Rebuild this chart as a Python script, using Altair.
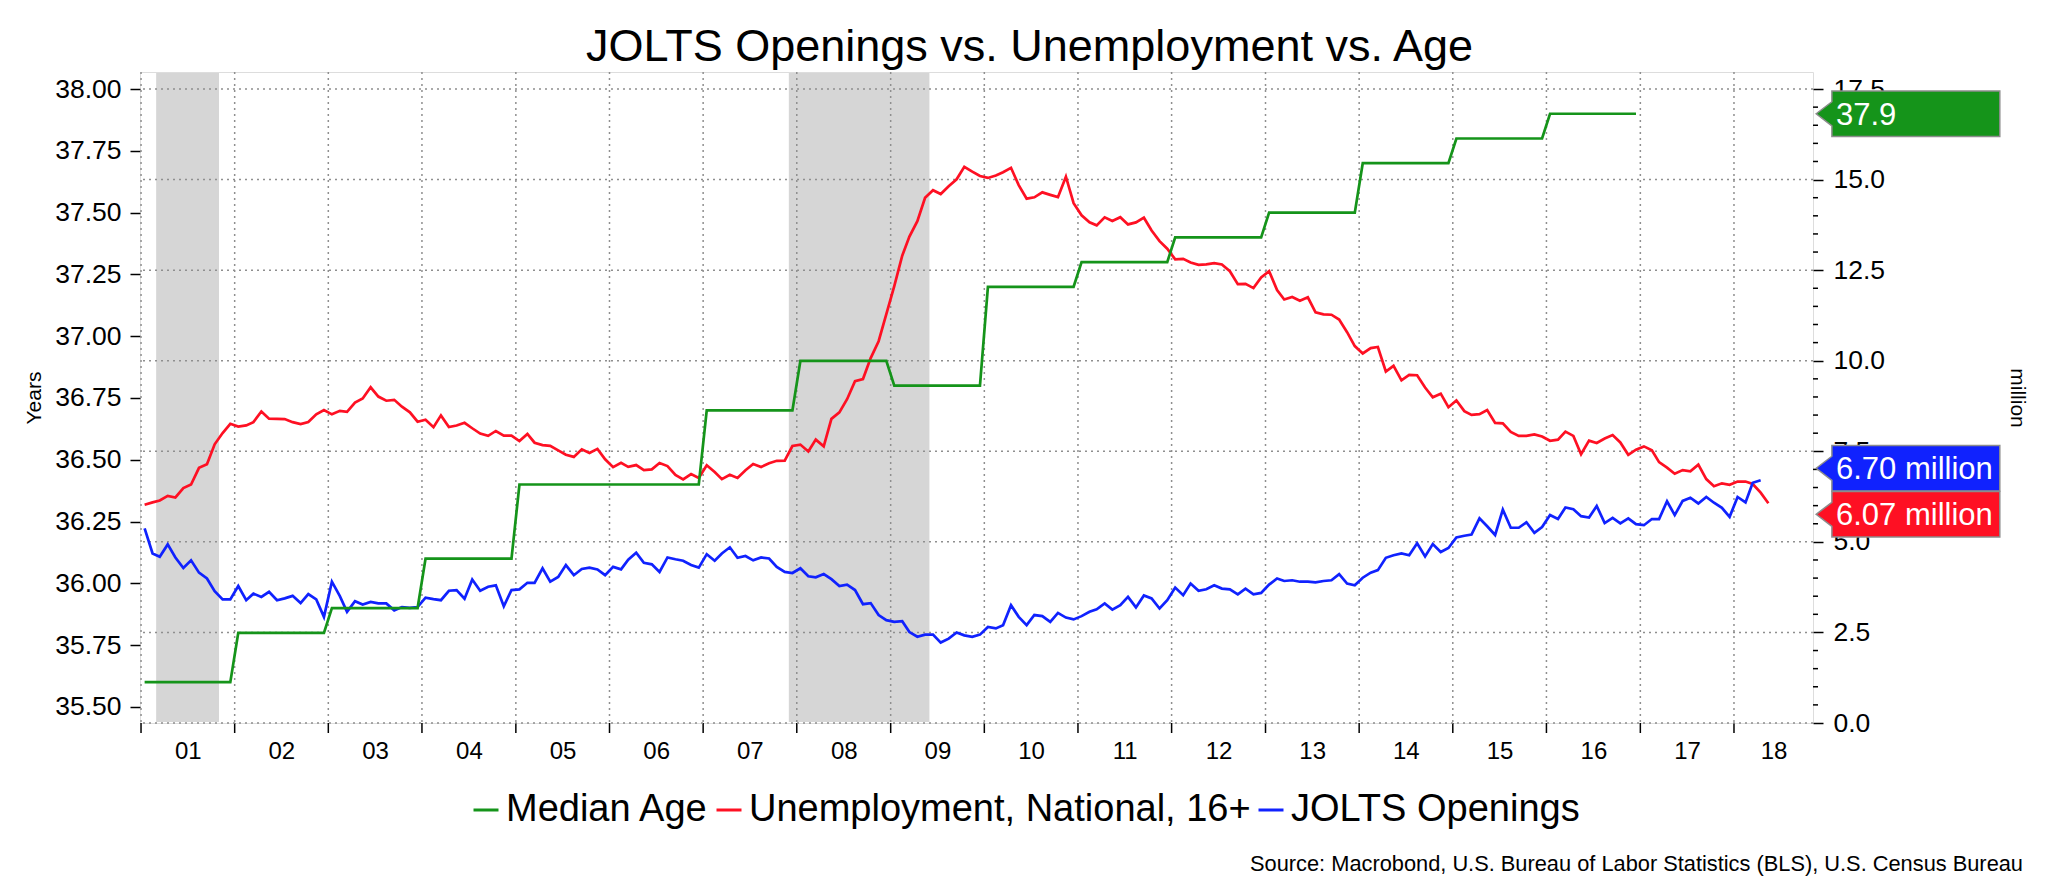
import altair as alt
import pandas as pd

FONT = "Liberation Sans"

title_text = "JOLTS Openings vs. Unemployment vs. Age"
source_text = "Source: Macrobond, U.S. Bureau of Labor Statistics (BLS), U.S. Census Bureau"

series_names = ["Median Age", "Unemployment, National, 16+", "JOLTS Openings"]
series_colors = ["#15941a", "#fe1023", "#1022fe"]

# Median age, annual (years)
age_years = [2001, 2002, 2003, 2004, 2005, 2006, 2007, 2008, 2009, 2010, 2011, 2012, 2013, 2014, 2015, 2016]
age_values = [35.6, 35.8, 35.9, 36.1, 36.4, 36.4, 36.7, 36.9, 36.8, 37.2, 37.3, 37.4, 37.5, 37.7, 37.8, 37.9]

# Unemployed persons, national, 16+ (million), monthly from Jan 2001
unemp_values = [
    6.023, 6.089, 6.141, 6.271, 6.226, 6.484, 6.583, 7.042, 7.142, 7.694, 8.003, 8.258,
    8.182, 8.215, 8.304, 8.599, 8.399, 8.393, 8.390, 8.304, 8.251, 8.307, 8.520, 8.640,
    8.520, 8.618, 8.588, 8.842, 8.957, 9.266, 9.011, 8.896, 8.921, 8.732, 8.576, 8.317,
    8.370, 8.167, 8.491, 8.170, 8.212, 8.286, 8.136, 7.990, 7.927, 8.061, 7.932, 7.934,
    7.784, 7.980, 7.737, 7.672, 7.651, 7.524, 7.406, 7.345, 7.553, 7.453, 7.566, 7.279,
    7.064, 7.184, 7.072, 7.120, 6.980, 7.001, 7.175, 7.091, 6.847, 6.727, 6.872, 6.762,
    7.116, 6.927, 6.731, 6.850, 6.766, 6.979, 7.149, 7.067, 7.170, 7.237, 7.240, 7.645,
    7.685, 7.497, 7.822, 7.637, 8.395, 8.575, 8.937, 9.438, 9.494, 10.074, 10.538, 11.286,
    12.058, 12.898, 13.426, 13.853, 14.499, 14.707, 14.601, 14.814, 15.009, 15.352, 15.219, 15.098,
    15.046, 15.113, 15.202, 15.325, 14.849, 14.474, 14.512, 14.648, 14.579, 14.516, 15.081, 14.348,
    14.013, 13.820, 13.737, 13.957, 13.855, 13.962, 13.763, 13.818, 13.948, 13.594, 13.302, 13.093,
    12.797, 12.813, 12.713, 12.646, 12.660, 12.692, 12.656, 12.471, 12.115, 12.124, 12.005, 12.298,
    12.471, 11.950, 11.689, 11.760, 11.654, 11.751, 11.335, 11.279, 11.270, 11.136, 10.787, 10.404,
    10.202, 10.349, 10.380, 9.702, 9.859, 9.460, 9.608, 9.599, 9.262, 8.990, 9.090, 8.717,
    8.903, 8.610, 8.504, 8.526, 8.640, 8.283, 8.271, 8.035, 7.925, 7.927, 7.968, 7.907,
    7.791, 7.822, 8.044, 7.925, 7.421, 7.795, 7.731, 7.853, 7.947, 7.744, 7.404, 7.543,
    7.635, 7.528, 7.200, 7.050, 6.880, 6.980, 6.950, 7.132, 6.733, 6.535, 6.616, 6.576,
    6.663, 6.664, 6.598, 6.357, 6.065,
]

# JOLTS job openings (million), monthly from Jan 2001
jolts_values = [
    5.37, 4.68, 4.59, 4.93, 4.57, 4.28, 4.49, 4.15, 3.99, 3.64, 3.41, 3.41,
    3.78, 3.39, 3.57, 3.48, 3.62, 3.39, 3.44, 3.51, 3.31, 3.56, 3.41, 2.93,
    3.90, 3.50, 3.07, 3.36, 3.27, 3.34, 3.30, 3.30, 3.11, 3.20, 3.18, 3.20,
    3.46, 3.42, 3.39, 3.65, 3.67, 3.43, 3.96, 3.65, 3.76, 3.80, 3.22, 3.67,
    3.69, 3.87, 3.87, 4.27, 3.90, 4.03, 4.36, 4.08, 4.25, 4.29, 4.24, 4.08,
    4.31, 4.24, 4.51, 4.70, 4.42, 4.38, 4.17, 4.57, 4.52, 4.48, 4.36, 4.29,
    4.66, 4.48, 4.68, 4.85, 4.56, 4.61, 4.49, 4.57, 4.54, 4.31, 4.17, 4.14,
    4.27, 4.05, 4.02, 4.11, 3.97, 3.78, 3.82, 3.67, 3.28, 3.31, 2.98, 2.84,
    2.79, 2.81, 2.51, 2.38, 2.44, 2.44, 2.22, 2.33, 2.50, 2.42, 2.38, 2.44,
    2.65, 2.61, 2.70, 3.25, 2.93, 2.70, 2.98, 2.95, 2.79, 3.04, 2.91, 2.86,
    2.95, 3.07, 3.14, 3.30, 3.13, 3.25, 3.48, 3.19, 3.52, 3.44, 3.16, 3.39,
    3.74, 3.53, 3.85, 3.65, 3.69, 3.80, 3.71, 3.69, 3.55, 3.71, 3.55, 3.59,
    3.82, 3.99, 3.92, 3.94, 3.90, 3.90, 3.88, 3.92, 3.94, 4.11, 3.85, 3.80,
    4.01, 4.15, 4.22, 4.56, 4.63, 4.68, 4.63, 4.96, 4.60, 4.94, 4.72, 4.83,
    5.12, 5.17, 5.20, 5.65, 5.43, 5.19, 5.89, 5.39, 5.39, 5.54, 5.25, 5.41,
    5.74, 5.63, 5.95, 5.90, 5.71, 5.67, 5.99, 5.52, 5.66, 5.51, 5.65, 5.49,
    5.46, 5.63, 5.63, 6.12, 5.74, 6.13, 6.22, 6.06, 6.24, 6.08, 5.94, 5.69,
    6.24, 6.09, 6.63, 6.70,
]

# Recession periods (shaded)
recession_start = ["2001-03-01", "2007-12-01"]
recession_end = ["2001-11-01", "2009-06-01"]

# Axis ticks
year_ticks = list(range(2001, 2019))
left_ticks = [35.50, 35.75, 36.00, 36.25, 36.50, 36.75, 37.00, 37.25, 37.50, 37.75, 38.00]
right_ticks = [0.0, 2.5, 5.0, 7.5, 10.0, 12.5, 15.0, 17.5]
right_minor = [0.5, 1.0, 1.5, 2.0, 3.0, 3.5, 4.0, 4.5, 5.5, 6.0, 6.5, 7.0, 8.0, 8.5, 9.0, 9.5,
               10.5, 11.0, 11.5, 12.0, 13.0, 13.5, 14.0, 14.5, 15.5, 16.0, 16.5, 17.0]

# ---------------- tables ----------------
def monthly(values, name):
    d = pd.date_range("2001-01-01", periods=len(values), freq="MS") + pd.Timedelta(days=14)
    return pd.DataFrame({"date": d, "value": values, "series": name})

lines_df = pd.concat([monthly(unemp_values, series_names[1]),
                      monthly(jolts_values, series_names[2])], ignore_index=True)

age_rows = []
for y, v in zip(age_years, age_values):
    age_rows.append({"date": pd.Timestamp(y, 1, 15), "value": v, "series": series_names[0]})
    age_rows.append({"date": pd.Timestamp(y, 12, 15), "value": v, "series": series_names[0]})
age_df = pd.DataFrame(age_rows)

rec_df = pd.DataFrame({"start": pd.to_datetime(recession_start), "end": pd.to_datetime(recession_end)})
ticks_df = pd.DataFrame({"tick": [pd.Timestamp(y, 1, 1) for y in year_ticks]})
hgrid_df = pd.DataFrame({"v": right_ticks})
minor_df = pd.DataFrame({"v": right_minor})

age_last = pd.DataFrame({"value": [age_values[-1]], "label": [f"{age_values[-1]:.1f}"]})
jolts_last = pd.DataFrame({"value": [jolts_values[-1]], "label": [f"{jolts_values[-1]:.2f} million"]})
unemp_last = pd.DataFrame({"value": [unemp_values[-1]], "label": [f"{unemp_values[-1]:.2f} million"]})
src_df = pd.DataFrame({"t": [source_text]})

# ---------------- geometry / styles ----------------
W, H = 1673, 651
GRID = "#8f8f8f"
BOX = "M-1,0L-0.829,-0.131L-0.829,-0.248L1,-0.248L1,0.248L-0.829,0.248L-0.829,0.131Z"
BOX_SIZE = 183.6 ** 2
BOX_X = 1768
TXT_X = 1696

x_scale = alt.Scale(domain=[alt.DateTime(year=2000, month=12, date=28),
                            alt.DateTime(year=2018, month=11, date=5)])
label_dates = [alt.DateTime(year=y, month=7, date=2) for y in range(2001, 2018)] + \
              [alt.DateTime(year=2018, month=6, date=4)]
x_axis = alt.Axis(values=label_dates, format="%y", title=None, ticks=False, tickSize=0,
                  domain=False, grid=False, labelFont=FONT, labelFontSize=24, labelColor="#000",
                  labelPadding=16.5, labelFlush=False, labelOverlap=False)

yL_scale = alt.Scale(domain=[35.435, 38.069], nice=False, zero=False)
yR_scale = alt.Scale(domain=[0, 17.97], nice=False, zero=False)

yL_axis = alt.Axis(orient="left", values=left_ticks, format=".2f", title="Years",
                   titleFont=FONT, titleFontSize=21, titleFontWeight="normal", titleColor="#000",
                   titleAngle=-90, titleX=-106, titleY=H / 2, titleAlign="center",
                   titleBaseline="middle", labelFont=FONT, labelFontSize=26.5, labelColor="#000",
                   labelPadding=9, tickSize=10, tickColor="#000", tickWidth=1.5, domain=False,
                   grid=False, labelFlush=False, labelOverlap=False)
yR_axis = alt.Axis(orient="right", values=right_ticks, format=".1f", title="million",
                   titleFont=FONT, titleFontSize=21, titleFontWeight="normal", titleColor="#000",
                   titleAngle=90, titleX=203.5, titleY=H / 2, titleAlign="center",
                   titleBaseline="middle", labelFont=FONT, labelFontSize=26.5, labelColor="#000",
                   labelPadding=10, tickSize=10, tickColor="#000", tickWidth=1.5, domain=False,
                   grid=False, labelFlush=False, labelOverlap=False)

c_scale = alt.Scale(domain=series_names, range=series_colors)
legend = alt.Legend(title=None, orient="none", legendX=327, legendY=719, direction="horizontal",
                    symbolType="stroke", symbolSize=625, symbolStrokeWidth=3,
                    labelFont=FONT, labelFontSize=38, labelColor="#000", labelOffset=1,
                    columnPadding=1, padding=0, labelLimit=2000)


def X(field):
    return alt.X(f"{field}:T", scale=x_scale, axis=x_axis)


# ---------------- layers ----------------
rec = alt.Chart(rec_df).mark_rect(color="#d6d6d6").encode(
    x=X("start"), x2="end", y=alt.value(1), y2=alt.value(H - 1))

vgrid = alt.Chart(ticks_df).mark_rule(color=GRID, strokeDash=[2, 4], strokeWidth=1.5).encode(
    x=X("tick"))

xticks = alt.Chart(ticks_df).mark_rule(color="#000", strokeWidth=1.5).encode(
    x=X("tick"), y=alt.value(H), y2=alt.value(H + 10))

# right scale (million)
hgrid = alt.Chart(hgrid_df).mark_rule(color=GRID, strokeDash=[2, 4], strokeWidth=1.5).encode(
    y=alt.Y("v:Q", scale=yR_scale, axis=yR_axis))
minor = alt.Chart(minor_df).mark_rule(color="#000", strokeWidth=1.5).encode(
    y=alt.Y("v:Q", scale=yR_scale, axis=yR_axis), x=alt.value(W), x2=alt.value(W + 5))
lines = alt.Chart(lines_df).mark_line(strokeWidth=2.7).encode(
    x=X("date"), y=alt.Y("value:Q", scale=yR_scale, axis=yR_axis),
    color=alt.Color("series:N", scale=c_scale, legend=legend))


def tag(df, scale, axis, color, off):
    box = alt.Chart(df).mark_point(shape=BOX, filled=True, size=BOX_SIZE, fill=color,
                                   stroke="#8c8c8c", strokeWidth=1.5, opacity=1).encode(
        x=alt.value(BOX_X), y=alt.Y("value:Q", scale=scale, axis=axis), yOffset=alt.value(off))
    txt = alt.Chart(df).mark_text(align="left", baseline="middle", font=FONT, fontSize=31,
                                  color="white", dy=2).encode(
        x=alt.value(TXT_X), y=alt.Y("value:Q", scale=scale, axis=axis), yOffset=alt.value(off),
        text="label:N")
    return box, txt


jb, jt = tag(jolts_last, yR_scale, yR_axis, series_colors[2], -12)
ub, ut = tag(unemp_last, yR_scale, yR_axis, series_colors[1], 11)
layerB = alt.layer(hgrid, minor, lines, jb, jt, ub, ut)

# left scale (years)
age_line = alt.Chart(age_df).mark_line(strokeWidth=2.7).encode(
    x=X("date"), y=alt.Y("value:Q", scale=yL_scale, axis=yL_axis),
    color=alt.Color("series:N", scale=c_scale, legend=legend))
ab, at = tag(age_last, yL_scale, yL_axis, series_colors[0], 0)
layerA = alt.layer(age_line, ab, at)

source = alt.Chart(src_df).mark_text(align="right", baseline="middle", font=FONT,
                                     fontSize=21.8, color="#000").encode(
    x=alt.value(1883), y=alt.value(792), text="t:N")

chart = alt.layer(rec, vgrid, xticks, layerB, layerA, source).resolve_scale(
    y="independent").properties(
    width=W, height=H,
    autosize=alt.AutoSizeParams(type="none"),
    padding={"left": 132, "top": 64, "right": 225, "bottom": 159},
    title=alt.TitleParams(title_text, font=FONT, fontSize=45, fontWeight="normal", color="#000",
                          anchor="middle", frame="group", dx=53, dy=50, offset=15.3,
                          baseline="alphabetic"),
).configure_view(stroke="#8c8c8c", strokeWidth=1.5).configure(font=FONT)

chart.save("out.html", embed_options={"renderer": "svg", "actions": False})
